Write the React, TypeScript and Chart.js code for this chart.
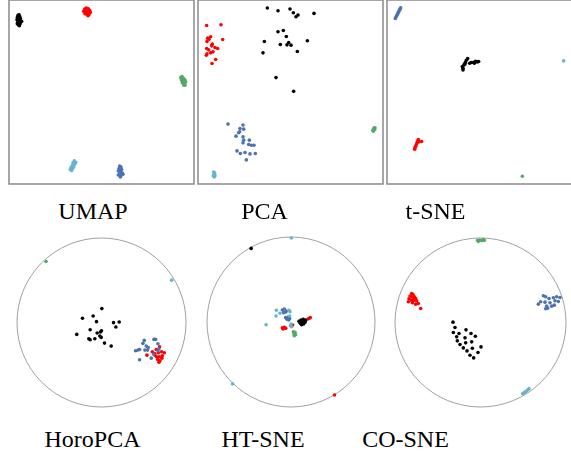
import React, { useEffect, useRef } from "react";
import { Chart, registerables } from "chart.js";

Chart.register(...registerables);

// ---------- data (embedding coordinates, arbitrary units per panel) ----------
// UMAP
const umapBlack = [[55,47],[58,45],[60,50],[53,53],[57,55],[62,56],[52,60],[56,62],[60,63],[66,65],[54,68],[58,70],[62,68],[56,75],[59,78],[53,72],[61,73]];
const umapRed = [[255,28],[260,25],[266,27],[270,32],[252,35],[258,34],[264,36],[272,38],[256,42],[262,44],[268,45],[260,40],[265,48]];
const umapGreen = [[543,233],[547,230],[552,236],[545,240],[550,242],[556,240],[548,248],[554,250],[558,246],[552,255],[556,256]];
const umapCyan = [[224,482],[228,486],[220,488],[225,492],[218,496],[222,500],[214,502],[219,505],[212,508],[216,511],[226,490]];
const umapBlue = [[360,497],[364,500],[358,505],[366,508],[356,512],[362,514],[368,518],[360,520],[356,524],[364,526],[370,522],[362,530]];

// PCA
const pcaBlack = [[233,25],[265,33],[301,28],[311,39],[325,46],[319,51],[373,41],[265,96],[281,92],[290,110],[224,125],[297,128],[272,134],[292,135],[304,136],[353,123],[220,159],[323,155],[259,233],[312,274]];
const pcaRed = [[51,77],[94,75],[54,115],[63,111],[58,118],[99,119],[52,125],[68,133],[66,138],[76,143],[84,146],[51,146],[57,150],[70,156],[63,159],[52,162],[50,166],[78,179],[67,191]];
const pcaBlue = [[115,372],[160,375],[151,385],[162,387],[147,398],[150,395],[139,408],[160,410],[162,420],[179,420],[160,428],[177,433],[185,435],[193,435],[142,452],[152,460],[166,457],[181,461],[197,460],[170,479]];
const pcaGreen = [[550,390],[553,384],[555,388],[551,393],[556,383]];
const pcaCyan = [[72,515],[75,518],[73,522],[71,527],[76,526],[74,530]];

// t-SNE
const tsneBlue = [[63,24],[61,28],[59,32],[57,36],[55,40],[53,44],[51,48],[49,52],[47,56],[60,30],[54,42]];
const tsneBlack = [[250,210],[248,200],[253,195],[257,188],[264,176],[260,181],[270,190],[275,188],[282,187],[288,184],[293,186],[297,185],[284,190],[250,205],[256,192]];
const tsneCyan = [[552,183]];
const tsneRed = [[116,418],[114,423],[112,428],[110,433],[108,438],[106,443],[105,447],[126,424],[118,425]];
const tsneGreen = [[428,528]];

// HoroPCA
const horoGreen = [[140,95]];
const horoCyan = [[516,151]];
const horoBlack = [[307,236],[249,265],[281,258],[291,275],[342,278],[359,276],[349,291],[272,299],[306,302],[303,306],[293,309],[232,313],[301,318],[268,326],[272,329],[286,326],[305,322],[315,339],[335,348]];
const horoBlue = [[434,331],[463,328],[468,328],[430,340],[475,341],[440,348],[446,352],[420,358],[408,362],[415,360],[436,360],[444,360],[478,356],[462,372],[455,384],[420,389],[475,362]];
const horoRed = [[480,350],[470,358],[458,365],[476,368],[486,365],[494,368],[442,375],[466,375],[471,380],[479,380],[488,377],[474,388],[481,392],[478,396],[487,384],[465,370]];

// HT-SNE
const htBlack = [[168,56],[312,274],[318,270],[325,268],[330,272],[322,278],[316,280],[326,282],[320,284],[330,277],[333,270]];
const htCyan = [[289,25],[112,461],[244,241],[243,258],[255,250],[282,241],[285,245],[284,258],[213,284],[288,282],[290,290],[286,287]];
const htBlue = [[262,240],[268,237],[274,243],[266,248],[272,246],[272,263],[278,262],[284,266],[276,268],[281,270]];
const htRed = [[419,494],[346,263],[341,266],[262,293],[268,292],[272,295],[264,297],[293,285]];
const htGreen = [[295,305],[300,307],[297,312],[302,314],[298,317]];

// CO-SNE
const coGreen = [[278,31],[283,31],[288,31],[293,31],[298,31],[280,34],[295,29]];
const coRed = [[80,190],[84,193],[75,198],[82,200],[88,200],[92,205],[72,206],[78,210],[85,212],[95,212],[70,215],[82,218],[100,220],[92,222],[107,235],[86,208]];
const coBlue = [[475,197],[482,200],[492,205],[505,203],[515,200],[525,202],[460,222],[467,215],[480,216],[495,218],[510,212],[520,214],[485,228],[500,228],[488,234],[482,236],[508,225]];
const coBlack = [[204,276],[210,292],[205,307],[222,310],[243,299],[258,310],[271,318],[215,320],[240,323],[217,332],[225,343],[242,338],[260,335],[288,350],[235,353],[262,354],[246,362],[279,367],[255,375],[266,383]];
const coCyan = [[413,490],[418,487],[423,483],[428,479],[432,475],[420,486]];

const titles = ["UMAP", "PCA", "t-SNE", "HoroPCA", "HT-SNE", "CO-SNE"];

// ---------- styles ----------
const COLORS: Record<string, string> = {
  black: "#000000",
  red: "#ff0000",
  green: "#55a868",
  blue: "#4c72b0",
  cyan: "#64b5cd",
};
const PAD = 6;

type Series = { cls: string; points: number[][] };
type PanelSpec = {
  title: string;
  shape: "box" | "circle";
  left: number; top: number; w: number; h: number;
  xr: [number, number]; yr: [number, number];
  series: Series[];
  titleX: number; titleY: number;
};

const panels: PanelSpec[] = [
  { title: titles[0], shape: "box", left: 9, top: 0, w: 185, h: 184, xr: [28, 583], yr: [1, 551], titleX: 93, titleY: 199,
    series: [{ cls: "black", points: umapBlack }, { cls: "red", points: umapRed }, { cls: "green", points: umapGreen }, { cls: "cyan", points: umapCyan }, { cls: "blue", points: umapBlue }] },
  { title: titles[1], shape: "box", left: 198, top: 0, w: 185, h: 184, xr: [25, 580], yr: [1, 551], titleX: 264.5, titleY: 199,
    series: [{ cls: "black", points: pcaBlack }, { cls: "red", points: pcaRed }, { cls: "blue", points: pcaBlue }, { cls: "green", points: pcaGreen }, { cls: "cyan", points: pcaCyan }] },
  { title: titles[2], shape: "box", left: 387, top: 0, w: 185, h: 184, xr: [22, 577], yr: [1, 551], titleX: 435.5, titleY: 199,
    series: [{ cls: "blue", points: tsneBlue }, { cls: "black", points: tsneBlack }, { cls: "cyan", points: tsneCyan }, { cls: "red", points: tsneRed }, { cls: "green", points: tsneGreen }] },
  { title: titles[3], shape: "circle", left: 17, top: 238, w: 169, h: 169, xr: [53, 559], yr: [25, 530], titleX: 92.5, titleY: 427,
    series: [{ cls: "green", points: horoGreen }, { cls: "cyan", points: horoCyan }, { cls: "black", points: horoBlack }, { cls: "blue", points: horoBlue }, { cls: "red", points: horoRed }] },
  { title: titles[4], shape: "circle", left: 207, top: 237, w: 168, h: 170, xr: [35, 541], yr: [22, 530], titleX: 263, titleY: 427,
    series: [{ cls: "cyan", points: htCyan }, { cls: "blue", points: htBlue }, { cls: "red", points: htRed }, { cls: "green", points: htGreen }, { cls: "black", points: htBlack }] },
  { title: titles[5], shape: "circle", left: 395, top: 238, w: 171, h: 169, xr: [30, 543], yr: [24, 530], titleX: 405.5, titleY: 427,
    series: [{ cls: "green", points: coGreen }, { cls: "red", points: coRed }, { cls: "blue", points: coBlue }, { cls: "black", points: coBlack }, { cls: "cyan", points: coCyan }] },
];

const framePlugin = {
  id: "frame",
  beforeDatasetsDraw(chart: any) {
    const shape = chart.options.plugins.frame?.shape;
    const { ctx, chartArea: a } = chart;
    ctx.save();
    if (shape === "box") {
      ctx.strokeStyle = "#8a8a8a";
      ctx.lineWidth = 1.5;
      ctx.strokeRect(a.left, a.top, a.right - a.left, a.bottom - a.top);
    } else {
      ctx.strokeStyle = "#a0a0a0";
      ctx.lineWidth = 1;
      ctx.beginPath();
      ctx.ellipse((a.left + a.right) / 2, (a.top + a.bottom) / 2, (a.right - a.left) / 2, (a.bottom - a.top) / 2, 0, 0, Math.PI * 2);
      ctx.stroke();
    }
    ctx.restore();
  },
};

function Panel({ spec }: { spec: PanelSpec }) {
  const ref = useRef<HTMLCanvasElement | null>(null);
  useEffect(() => {
    if (!ref.current) return;
    const chart = new Chart(ref.current, {
      type: "scatter",
      data: {
        datasets: spec.series.map((s) => ({
          label: s.cls,
          data: s.points.map(([x, y]) => ({ x, y })),
          backgroundColor: COLORS[s.cls],
          borderWidth: 0,
          pointRadius: 1.8,
          pointHoverRadius: 1.8,
          clip: false as any,
        })),
      },
      options: {
        animation: false,
        responsive: false,
        devicePixelRatio: 1,
        events: [],
        layout: { padding: PAD },
        plugins: {
          legend: { display: false },
          tooltip: { enabled: false },
          // @ts-ignore
          frame: { shape: spec.shape },
        },
        scales: {
          x: { type: "linear", display: false, min: spec.xr[0], max: spec.xr[1] },
          y: { type: "linear", display: false, min: spec.yr[0], max: spec.yr[1], reverse: true },
        },
      },
      plugins: [framePlugin],
    });
    return () => chart.destroy();
  }, [spec]);
  return (
    <canvas
      ref={ref}
      width={spec.w + 2 * PAD}
      height={spec.h + 2 * PAD}
      style={{ position: "absolute", left: spec.left - PAD, top: spec.top - PAD, width: spec.w + 2 * PAD, height: spec.h + 2 * PAD }}
    />
  );
}

export default function App() {
  return (
    <div style={{ position: "absolute", left: 0, top: 0, width: 571, height: 454, overflow: "hidden", background: "#fff" }}>
      {panels.map((p) => (
        <Panel key={p.title} spec={p} />
      ))}
      {panels.map((p) => (
        <div
          key={p.title + "-t"}
          style={{
            position: "absolute",
            left: p.titleX - 80,
            top: p.titleY,
            width: 160,
            textAlign: "center",
            fontFamily: "'Liberation Serif', 'Times New Roman', serif",
            fontSize: 24,
            lineHeight: "24px",
            color: "#000",
            whiteSpace: "nowrap",
          }}
        >
          {p.title}
        </div>
      ))}
    </div>
  );
}
